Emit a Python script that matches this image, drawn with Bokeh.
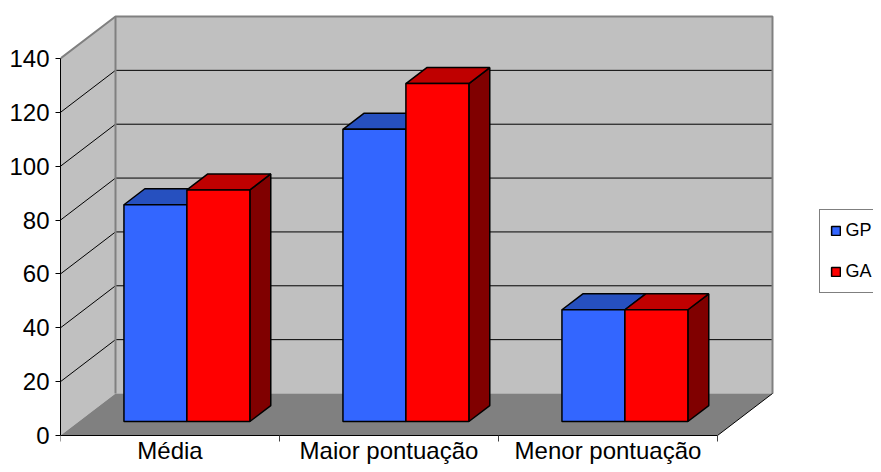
from bokeh.plotting import figure
from bokeh.models import FixedTicker, Legend, LegendItem, Range1d
from bokeh.core.properties import value
from bokeh.embed import file_html
from bokeh.resources import INLINE

# ---- data ----
categories = ["Média", "Maior pontuação", "Menor pontuação"]
series_names = ["GP", "GA"]
gp_values = [80.5, 108.5, 41.5]
ga_values = [86.0, 125.5, 41.5]
y_ticks = [0, 20, 40, 60, 80, 100, 120, 140]

series_values = [gp_values, ga_values]
front_colors = ["#3366FF", "#FF0000"]
top_colors = ["#2650BF", "#BF0000"]
side_colors = ["#1A3380", "#800000"]

# ---- layout constants (pixels) ----
W, H = 873, 464
AX_X = 60                # canvas x of the front value axis
ZERO_Y = 435             # canvas y of value 0 on the front plane
PX_CAT = 219.0           # px per category
VMAX = y_ticks[-1]
PX_VAL = 377.0 / VMAX    # px per value unit
DXc = 55.0 / PX_CAT      # depth offset in category units
DYv = 42.0 / PX_VAL      # depth offset in value units
NCAT = len(categories)

BAR_W = 0.2875
BAR_START = 0.206
D0, D1 = 1.0 / 3.0, 1.0 / 3.0 + 0.38

x_end = (W - AX_X) / PX_CAT
y_end = ZERO_Y / PX_VAL
y_start = -(H - ZERO_Y) / PX_VAL


def proj(x, y, d):
    return x + d * DXc, y + d * DYv


def poly(pts):
    return [q[0] for q in pts], [q[1] for q in pts]


p = figure(width=W, height=H, x_range=Range1d(0, x_end), y_range=Range1d(y_start, y_end),
           output_backend="svg", toolbar_location=None, x_axis_location=None,
           y_axis_location="left", min_border_left=AX_X, min_border_right=0,
           min_border_top=0, min_border_bottom=0, outline_line_color=None,
           background_fill_color="white", border_fill_color="white")
p.xgrid.grid_line_color = None
p.ygrid.grid_line_color = None

# ---- walls and floor ----
lw = poly([proj(0, 0, 0), proj(0, VMAX, 0), proj(0, VMAX, 1), proj(0, 0, 1)])
p.patch(lw[0], lw[1], fill_color="#C0C0C0", line_color=None)
bw = poly([proj(0, 0, 1), proj(0, VMAX, 1), proj(NCAT, VMAX, 1), proj(NCAT, 0, 1)])
p.patch(bw[0], bw[1], fill_color="#C0C0C0", line_color=None)
fl = poly([proj(0, 0, 0), proj(NCAT, 0, 0), proj(NCAT, 0, 1), proj(0, 0, 1)])
p.patch(fl[0], fl[1], fill_color="#808080", line_color=None)

# gridlines
gx, gy = [], []
for v in y_ticks[1:-1]:
    a, b, c = proj(0, v, 0), proj(0, v, 1), proj(NCAT, v, 1)
    gx.append([a[0], b[0], c[0]])
    gy.append([a[1], b[1], c[1]])
p.multi_line(gx, gy, line_color="#000000", line_width=1)

# wall edges
ex, ey = [], []
for seg in ([proj(0, VMAX, 0), proj(0, VMAX, 1), proj(NCAT, VMAX, 1), proj(NCAT, 0, 1)],
            [proj(0, 0, 1), proj(0, VMAX, 1)]):
    ex.append([q[0] for q in seg])
    ey.append([q[1] for q in seg])
p.multi_line(ex, ey, line_color="#808080", line_width=2)

# floor front / right edge and category axis
fe = poly([proj(0, 0, 0), proj(NCAT, 0, 0), proj(NCAT, 0, 1)])
p.line(fe[0], fe[1], line_color="#000000", line_width=1)
tick_len = 6.0 / PX_VAL
p.segment(x0=list(range(NCAT + 1)), y0=[0] * (NCAT + 1), x1=list(range(NCAT + 1)),
          y1=[-tick_len] * (NCAT + 1), line_color="#404040", line_width=1)

# ---- bars ----
front_renderers = []
for s, vals in enumerate(series_values):
    sx, sy, tx, ty = [], [], [], []
    left, right, top = [], [], []
    for k, v in enumerate(vals):
        x0 = k + BAR_START + s * BAR_W
        x1 = x0 + BAR_W
        side = poly([proj(x1, 0, D0), proj(x1, v, D0), proj(x1, v, D1), proj(x1, 0, D1)])
        sx.append(side[0]); sy.append(side[1])
        tp = poly([proj(x0, v, D0), proj(x1, v, D0), proj(x1, v, D1), proj(x0, v, D1)])
        tx.append(tp[0]); ty.append(tp[1])
        left.append(x0 + D0 * DXc)
        right.append(x1 + D0 * DXc)
        top.append(v + D0 * DYv)
    p.patches(sx, sy, fill_color=side_colors[s], line_color="black", line_width=1.5)
    p.patches(tx, ty, fill_color=top_colors[s], line_color="black", line_width=1.5)
    r = p.quad(left=left, right=right, bottom=[D0 * DYv] * len(vals), top=top,
               fill_color=front_colors[s], line_color="black", line_width=1.5)
    front_renderers.append(r)

# ---- value axis ----
ax = p.yaxis[0]
ax.ticker = FixedTicker(ticks=y_ticks)
ax.bounds = (0, VMAX)
ax.axis_line_color = "black"
ax.axis_line_width = 1
ax.major_tick_line_color = "black"
ax.major_tick_out = 5
ax.major_tick_in = 0
ax.minor_tick_line_color = None
ax.major_label_text_font = "Liberation Sans"
ax.major_label_text_font_size = "24px"
ax.major_label_text_color = "black"
ax.major_label_standoff = 6

# ---- category labels ----
p.text(x=[k + 0.5 for k in range(NCAT)], y=[-(436 - ZERO_Y) / PX_VAL] * NCAT, text=categories,
       text_align="center", text_baseline="top", text_font=value("Liberation Sans"),
       text_font_size="24px", text_color="black")

# ---- legend ----
legend = Legend(items=[LegendItem(label=series_names[i], renderers=[front_renderers[i]])
                       for i in range(2)],
                location=(818.5 - AX_X, H - 292.7),
                orientation="vertical", padding=10, spacing=20, margin=0,
                glyph_width=11, glyph_height=11, label_height=21, label_standoff=5,
                label_text_font="Liberation Sans", label_text_font_size="18px",
                label_text_color="black", border_line_color="black", border_line_width=1,
                background_fill_color="white", background_fill_alpha=1.0)
p.add_layout(legend)

open("out.html", "w").write(file_html(p, INLINE))
